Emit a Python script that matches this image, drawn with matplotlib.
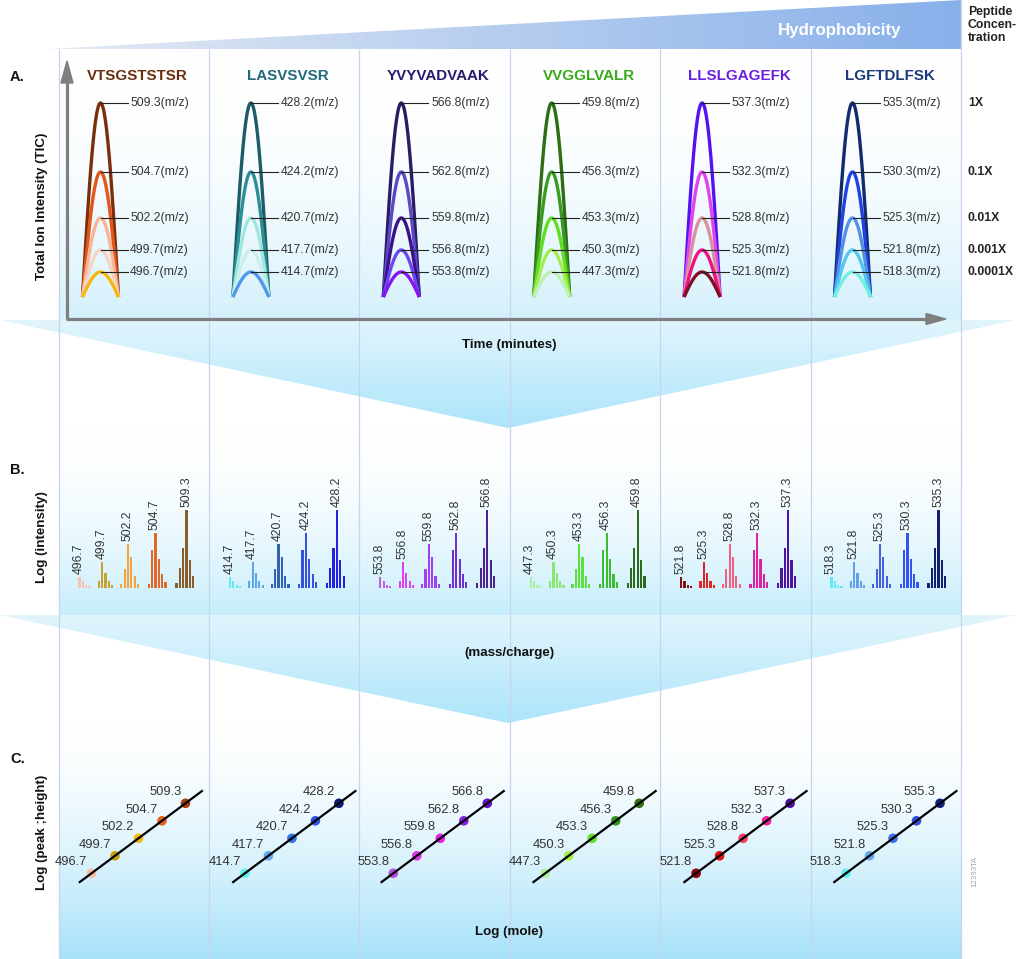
import numpy as np
import matplotlib
matplotlib.use('Agg')
import matplotlib.pyplot as plt
from matplotlib.patches import Polygon
from matplotlib import font_manager as fm
from matplotlib.colors import to_rgb

# ------------------------------------------------------------------ data
peptides = ['VTSGSTSTSR', 'LASVSVSR', 'YVYVADVAAK', 'VVGGLVALR', 'LLSLGAGEFK', 'LGFTDLFSK']
peptide_colors = ['#6B2E0E', '#1E6A78', '#2A1A6E', '#3AAA1A', '#6A20E0', '#1A3A7A']
concentrations = ['1X', '0.1X', '0.01X', '0.001X', '0.0001X']
log_conc = [0.0, -1.0, -2.0, -3.0, -4.0]
log_peak_height = [0.0, -1.0, -2.0, -3.0, -4.0]

# m/z of each peptide, ordered 1X .. 0.0001X
mz_values = [
    [509.3, 504.7, 502.2, 499.7, 496.7],
    [428.2, 424.2, 420.7, 417.7, 414.7],
    [566.8, 562.8, 559.8, 556.8, 553.8],
    [459.8, 456.3, 453.3, 450.3, 447.3],
    [537.3, 532.3, 528.8, 525.3, 521.8],
    [535.3, 530.3, 525.3, 521.8, 518.3],
]

# total ion current peak heights (arbitrary units), 1X .. 0.0001X
tic_height = [194, 125, 79, 47, 25]

# isotope cluster intensities (log intensity, arbitrary units), 1X .. 0.0001X
isotope_intensity = [
    [5, 20, 40, 78, 28, 12],
    [4, 38, 55, 29, 14, 6],
    [4, 19, 44, 31, 12, 4],
    [7, 26, 15, 7, 3],
    [11, 7, 3, 2],
]

tic_colors = [
    ['#7A2E0A', '#E2561A', '#F7B596', '#FAD3C3', '#F6B60F'],
    ['#1D5B66', '#2C8E96', '#9EE6DE', '#C9F1EC', '#4E98EE'],
    ['#2B1B62', '#5A48C4', '#3F0F8A', '#6848EE', '#8814F0'],
    ['#2D6E12', '#3B9A22', '#62DE22', '#A2EE52', '#BDF0B4'],
    ['#5412F2', '#E044EA', '#D8939C', '#EE1282', '#7E1024'],
    ['#112B6C', '#2142E2', '#5292E2', '#52C8F0', '#74F0E2'],
]
ms_colors = [
    ['#8A5E2A', '#E0682A', '#F5A23C', '#C8A032', '#F4C4B4'],
    ['#2222E0', '#3452DC', '#3462B0', '#5AA6E8', '#64E8F2'],
    ['#4E2090', '#7030D0', '#A040F0', '#E040F0', '#C060E0'],
    ['#2E6A1E', '#3CBE2E', '#5CE040', '#8AE870', '#A8F0A8'],
    ['#5012A0', '#E020A0', '#F06080', '#E02424', '#801414'],
    ['#13206E', '#3454F0', '#4462E0', '#60A0E8', '#60E8F2'],
]
cal_colors = [
    ['#A0400E', '#E8601C', '#F5B810', '#C8A010', '#F6C0A4'],
    ['#0E1A80', '#3052E0', '#3272E2', '#60A8F0', '#60F0F0'],
    ['#6010C0', '#8020E0', '#E020E8', '#E030F0', '#B050E0'],
    ['#307012', '#309020', '#60E020', '#A0F040', '#B0F0A0'],
    ['#5010A0', '#F020A0', '#F04060', '#E01010', '#900012'],
    ['#102080', '#3050E0', '#4070F0', '#60A8F0', '#60F0F0'],
]

# ------------------------------------------------------------------ fonts
avail = {f.name for f in fm.fontManager.ttflist}
if 'Liberation Sans Narrow' in avail:
    FN, SC = 'Liberation Sans Narrow', 1.0
else:
    FN, SC = 'Liberation Sans', 0.84
TXT = '#333333'

# ------------------------------------------------------------------ layout (pixels)
W, H = 1024, 959
fig = plt.figure(figsize=(W / 100, H / 100), dpi=100)
bg = fig.add_axes([0, 0, 1, 1], zorder=0)
bg.set_xlim(0, W)
bg.set_ylim(H, 0)
bg.axis('off')

COL_W = 150.4
col_left = [58.5 + COL_W * i for i in range(6)]
RIGHT = 58.5 + COL_W * 6


def px_axes(x0, y0, x1, y1):
    ax = fig.add_axes([x0 / W, 1 - y1 / H, (x1 - x0) / W, (y1 - y0) / H], zorder=2)
    ax.axis('off')
    return ax


def vgrad(x0, x1, y0, y1, c0, c1, power=1.0, clip=None, z=0.5):
    t = np.linspace(0, 1, 256) ** power
    a, b = np.array(to_rgb(c0)), np.array(to_rgb(c1))
    arr = (1 - t)[:, None] * a + t[:, None] * b
    im = bg.imshow(arr[:, None, :], extent=(x0, x1, y1, y0), origin='upper',
                   aspect='auto', interpolation='bilinear', zorder=z)
    if clip is not None:
        im.set_clip_path(clip)
    return im


# section backgrounds
vgrad(col_left[0], RIGHT, 49, 320, '#FFFFFF', '#D3F0FC', power=2.2)
vgrad(col_left[0], RIGHT, 428, 616, '#FFFFFF', '#C6EDFC', power=1.8)
vgrad(col_left[0], RIGHT, 723, 959, '#FFFFFF', '#A6E1F9', power=1.6)

# funnels
for top, tip in [(320, 428), (615, 723)]:
    poly = Polygon([(0, top), (1016, top), (508, tip)], closed=True, transform=bg.transData)
    vgrad(0, 1016, top, tip, '#E2F5FD', '#ACE5FA', power=1.0, clip=poly, z=0.6)

# header wedge
hp = Polygon([(48, 49), (RIGHT, 0), (RIGHT, 49)], closed=True, transform=bg.transData)
t = np.linspace(0, 1, 256)
ca, cb = np.array(to_rgb('#E4EAF4')), np.array(to_rgb('#88B0EA'))
harr = (1 - t)[:, None] * ca + t[:, None] * cb
him = bg.imshow(harr[None, :, :], extent=(48, RIGHT, 49, 0), origin='upper',
                aspect='auto', interpolation='bilinear', zorder=0.7)
him.set_clip_path(hp)

# column lines
bg.vlines(col_left, 49, 959, color='#C8D3EE', lw=0.9, zorder=1)
bg.vlines([RIGHT], 0, 959, color='#C8D3EE', lw=0.9, zorder=1)

# section A axis arrows
GREY = '#7F7F7F'
bg.plot([67, 67], [319, 80], color=GREY, lw=2.3, solid_capstyle='butt', zorder=1.5)
bg.add_patch(Polygon([(61, 83), (73, 83), (67, 61)], closed=True, color=GREY, zorder=1.5))
bg.plot([66, 928], [319, 319], color=GREY, lw=2.3, solid_capstyle='butt', zorder=1.5)
bg.add_patch(Polygon([(926, 313.5), (926, 324.5), (946, 319)], closed=True, color=GREY, zorder=1.5))

# texts on background
bg.text(840, 30, 'Hydrophobicity', color='white', fontsize=14.5 * SC, fontweight='bold',
        family=FN, ha='center', va='center', zorder=3)
bg.text(968, 25, 'Peptide\nConcen-\ntration', color='#222222', fontsize=10.5 * SC,
        fontweight='bold', family=FN, ha='left', va='center', linespacing=1.15, zorder=3)
for lab, y in [('A.', 77), ('B.', 470), ('C.', 759)]:
    bg.text(10, y, lab, fontsize=12.5 * SC, fontweight='bold', family=FN, color='#111111',
            ha='left', va='center', zorder=3)
for lab, y in [('Total Ion Intensity (TIC)', 206), ('Log (intensity)', 537), ('Log (peak ;height)', 832)]:
    bg.text(42, y, lab, rotation=90, fontsize=11.5 * SC, fontweight='bold', family=FN,
            color='#111111', ha='center', va='center', zorder=3)
for lab, y in [('Time (minutes)', 345), ('(mass/charge)', 653), ('Log (mole)', 932)]:
    bg.text(509, y, lab, fontsize=11.5 * SC, fontweight='bold', family=FN, color='#111111',
            ha='center', va='center', zorder=3)
for i, name in enumerate(peptides):
    bg.text(col_left[i] + 79, 76, name, fontsize=13 * SC, fontweight='bold', family=FN,
            color=peptide_colors[i], ha='center', va='center', zorder=3)
bg.text(974, 872, '12393TA', rotation=90, fontsize=5, color='#A0A0A0', ha='center', va='center')

# ------------------------------------------------------------------ A: TIC peaks
PEAK_OFF, PEAK_HALF, BASE_A = 42.0, 18.0, 297.0
shape_t = np.linspace(-1, 1, 121)
for i in range(6):
    ax = px_axes(col_left[i], 49, col_left[i] + COL_W, 320)
    ax.set_xlim(-PEAK_OFF / PEAK_HALF, (COL_W - PEAK_OFF) / PEAK_HALF)
    ax.set_ylim(-(320 - BASE_A), BASE_A - 49)
    for k in range(5):
        h = tic_height[k]
        ax.plot(shape_t, h * np.cos(np.pi * shape_t / 2), color=tic_colors[i][k],
                lw=2.4, solid_capstyle='butt', zorder=2 + k)
    for k in range(5):
        h = tic_height[k]
        ax.plot([0, 1.5], [h, h], color='#222222', lw=0.8, zorder=10)
        ax.text(1.65, h, f'{mz_values[i][k]}(m/z)', fontsize=10.5 * SC, family=FN,
                color=TXT, ha='left', va='center', zorder=11)
    if i == 5:
        xl = (968 - col_left[i] - PEAK_OFF) / PEAK_HALF
        for k in range(5):
            ax.text(xl, tic_height[k], concentrations[k], fontsize=10.5 * SC, fontweight='bold',
                    family=FN, color='#222222', ha='left', va='center', clip_on=False)

# ------------------------------------------------------------------ B: mass spectra
BASE_B = 588.0
group_main_x = [128.0, 97.0, 69.5, 43.7, 21.0]
PITCH, BAR_W = 3.35, 2.2
for i in range(6):
    ax = px_axes(col_left[i], 430, col_left[i] + COL_W, 615)
    ax.set_xlim(0, COL_W)
    ax.set_ylim(-(615 - BASE_B), BASE_B - 430)
    for k in range(5):
        inten = np.array(isotope_intensity[k], dtype=float)
        main = int(np.argmax(inten))
        xs = group_main_x[k] + (np.arange(len(inten)) - main) * PITCH
        ax.bar(xs, inten, width=BAR_W, color=ms_colors[i][k], linewidth=0)
        ax.text(group_main_x[k] - 0.5, inten[main] + 3, f'{mz_values[i][k]}', rotation=90,
                fontsize=10.5 * SC, family=FN, color=TXT, ha='center', va='bottom')

# ------------------------------------------------------------------ C: calibration lines
cal_off = [33.0, 36.0, 34.0, 35.5, 36.0, 35.5]
XPD, YPD, Y_M4 = 23.5, 17.5, 873.3
for i in range(6):
    ax = px_axes(col_left[i], 725, col_left[i] + COL_W, 959)
    ax.set_xlim(-4 - cal_off[i] / XPD, -4 + (COL_W - cal_off[i]) / XPD)
    ax.set_ylim(-4 - (959 - Y_M4) / YPD, -4 + (Y_M4 - 725) / YPD)
    x = np.array(log_conc)
    y = np.array(log_peak_height)
    coef = np.polyfit(x, y, 1)
    xl = np.array([-4.5, 0.7])
    ax.scatter(x, y, s=48, c=cal_colors[i], edgecolors='none', zorder=3)
    ax.plot(xl, np.polyval(coef, xl), color='black', lw=1.6, zorder=4)
    for xi, yi, m in zip(x, y, mz_values[i]):
        ax.annotate(f'{m}', (xi, yi), xytext=(-3, 8), textcoords='offset points',
                    ha='right', va='center', fontsize=11 * SC, family=FN, color=TXT)

bg.set_xlim(0, W)
bg.set_ylim(H, 0)
fig.savefig('out.png', dpi=100)
